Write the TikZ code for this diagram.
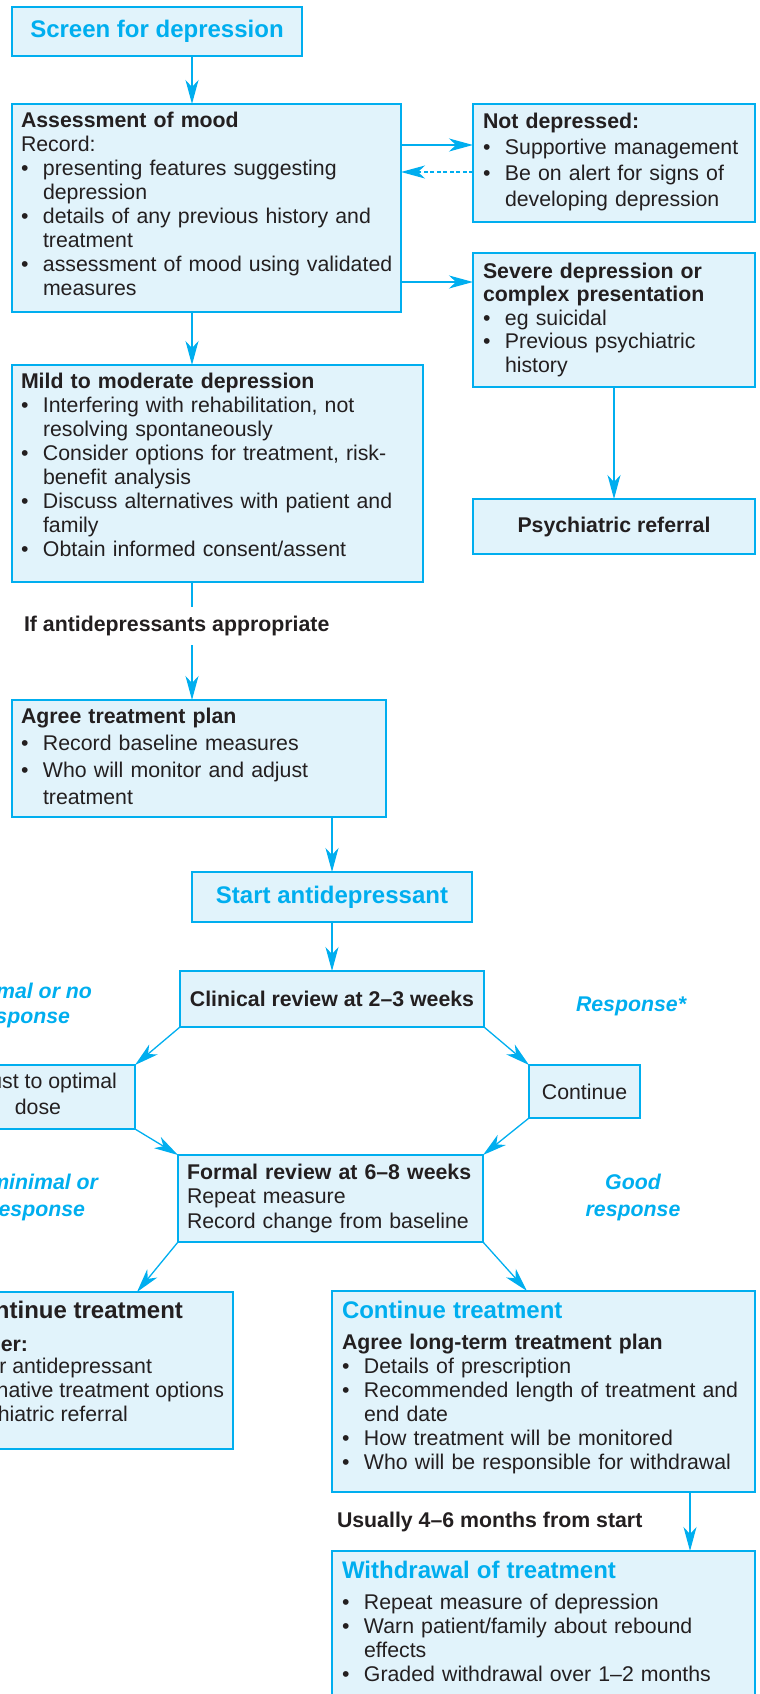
\documentclass[tikz,border=0pt]{standalone}
\usepackage{fontspec}
\setmainfont{Liberation Sans}
\usetikzlibrary{arrows.meta,calc}
\definecolor{cy}{HTML}{00AEEF}
\definecolor{bx}{HTML}{E1F3FB}
\definecolor{dk}{HTML}{231F20}
\newcommand{\bli}{\makebox[22pt][l]{\textbullet}}
\newcommand{\ind}{\hspace*{22pt}}
\newcommand{\bfs}{\fontsize{21.3}{24}\selectfont}
\newcommand{\hds}{\fontsize{24}{28}\selectfont\bfseries\color{cy}}
\begin{document}
\begin{tikzpicture}[x=1pt,y=-1pt,
 box/.style={draw=cy, fill=bx, line width=1.3pt, inner sep=0pt, outer sep=0pt},
 txt/.style={inner sep=0pt, outer sep=0pt, text=dk, font=\bfs, align=left, anchor=base west},
 frag/.style={inner sep=0pt, outer sep=0pt, text=dk, font=\bfs, anchor=base east},
 lab/.style={inner sep=0pt, outer sep=0pt, text=cy, font=\bfs\bfseries\itshape},
 arr/.style={draw=cy, line width=1.3pt, -{Stealth[length=24pt,width=13pt,inset=7pt]}},
 ln/.style={draw=cy, line width=1.3pt}]
\useasboundingbox (0,0) rectangle (760,1694);
\clip (0,0) rectangle (760,1694);

% boxes
\node[box, minimum width=290pt, minimum height=49pt, font=\hds] (scr) at (157,31.5) {Screen for depression};
\node[box, anchor=north west, minimum width=389pt, minimum height=208pt] (asm) at (12,104) {};
\node[box, anchor=north west, minimum width=282pt, minimum height=118pt] (nd) at (473,104) {};
\node[box, anchor=north west, minimum width=282pt, minimum height=134pt] (sev) at (473,253) {};
\node[box, minimum width=282pt, minimum height=55pt, text=dk, font=\bfs\bfseries] (psy) at (614,526.5) {Psychiatric referral};
\node[box, anchor=north west, minimum width=411pt, minimum height=217pt] (mild) at (12,365) {};
\node[box, anchor=north west, minimum width=374pt, minimum height=117pt] (agr) at (12,700) {};
\node[box, minimum width=280pt, minimum height=50pt, font=\hds] (st) at (332,897) {Start antidepressant};
\node[box, minimum width=304pt, minimum height=56pt, text=dk, font=\bfs\bfseries] (clin) at (332,999) {Clinical review at 2--3 weeks};
\node[box, anchor=north east, minimum width=200pt, minimum height=64pt] (adj) at (135,1065) {};
\node[box, minimum width=111pt, minimum height=53pt, text=dk, font=\bfs] (cont) at (584.5,1091.5) {Continue};
\node[box, anchor=north west, minimum width=305pt, minimum height=87pt] (frm) at (178,1155) {};
\node[box, anchor=north east, minimum width=300pt, minimum height=157pt] (cl) at (233,1292) {};
\node[box, anchor=north west, minimum width=423pt, minimum height=201pt] (cr) at (332,1291) {};
\node[box, anchor=north west, minimum width=423pt, minimum height=170pt] (wd) at (332,1551) {};

% texts in boxes
\node[txt, text width=378pt] (asmt) at (21,127) {\hyphenpenalty=10000 \textbf{Assessment of mood}\\Record:\\\bli presenting features suggesting\\\ind depression\\\bli details of any previous history and\\\ind treatment\\\bli assessment of mood using validated\\\ind measures};
\node[txt, text width=268pt, font=\fontsize{21.3}{26.3}\selectfont] (ndt) at (483,128) {\textbf{Not depressed:}\\\bli Supportive management\\\bli Be on alert for signs of\\\ind developing depression};
\node[txt, text width=268pt, font=\fontsize{21.3}{23.5}\selectfont] (sevt) at (483,278) {\textbf{Severe depression or}\\\textbf{complex presentation}\\\bli eg suicidal\\\bli Previous psychiatric\\\ind history};
\node[txt, text width=398pt] (mildt) at (21,388) {\hyphenpenalty=10000 \textbf{Mild to moderate depression}\\\bli Interfering with rehabilitation, not\\\ind resolving spontaneously\\\bli Consider options for treatment, risk-\\\ind benefit analysis\\\bli Discuss alternatives with patient and\\\ind family\\\bli Obtain informed consent/assent};
\node[txt, text width=360pt, font=\fontsize{21.3}{27}\selectfont] (agrt) at (21,723) {\textbf{Agree treatment plan}\\\bli Record baseline measures\\\bli Who will monitor and adjust\\\ind treatment};
\node[txt, text width=294pt, font=\fontsize{21.3}{24.5}\selectfont] (frmt) at (187,1179) {\textbf{Formal review at 6--8 weeks}\\Repeat measure\\Record change from baseline};
\node[txt, text width=410pt] (crt) at (342,1318) {\hyphenpenalty=10000 {\hds Continue treatment}\\[7pt]\textbf{Agree long-term treatment plan}\\\bli Details of prescription\\\bli Recommended length of treatment and\\\ind end date\\\bli How treatment will be monitored\\\bli Who will be responsible for withdrawal};
\node[txt, text width=410pt] (wdt) at (342,1578) {{\hds Withdrawal of treatment}\\[7pt]\bli Repeat measure of depression\\\bli Warn patient/family about rebound\\\ind effects\\\bli Graded withdrawal over 1--2 months};

% cut-off fragments at left edge
\node[frag] (adj1) at (117,1088) {ust to optimal};
\node[frag, anchor=base] (adj2) at (38,1114) {dose};
\node[frag, font=\hds] (cl1) at (183,1318) {ntinue treatment};
\node[frag, font=\bfs\bfseries] (cl2) at (28,1351) {der:};
\node[frag] (cl3) at (152,1373) {r antidepressant};
\node[frag] (cl4) at (224,1397) {native treatment options};
\node[frag] (cl5) at (128,1421) {hiatric referral};

% labels
\node[lab, anchor=base east] (l1) at (92,998) {mal or no};
\node[lab, anchor=base east] (l2) at (70,1023) {sponse};
\node[lab, anchor=base east] (l3) at (98,1189) {minimal or};
\node[lab, anchor=base east] (l4) at (85,1216) {esponse};
\node[lab, anchor=base west] (r1) at (576,1011) {Response*};
\node[lab, anchor=base] (r2) at (633,1189) {Good};
\node[lab, anchor=base] (r3) at (633,1216) {response};
\node[txt, font=\bfs\bfseries] (ifa) at (24,631) {If antidepressants appropriate};
\node[txt, font=\bfs\bfseries] (usu) at (337,1527) {Usually 4--6 months from start};

% helper coordinates
\coordinate (xa) at (192,0);
\coordinate (xc) at (690,0);
\coordinate (ya) at (0,145);
\coordinate (yd) at (0,172);
\coordinate (ys) at (0,282);
\coordinate (ia) at (192,607);
\coordinate (ib) at (192,645);

% connectors
\draw[arr] (scr.south -| xa) -- (asm.north -| xa);
\draw[arr] (asm.east |- ya) -- (nd.west |- ya);
\draw[arr, dash pattern=on 4pt off 2.5pt] (nd.west |- yd) -- (asm.east |- yd);
\draw[arr] (asm.east |- ys) -- (sev.west |- ys);
\draw[arr] (asm.south -| xa) -- (mild.north -| xa);
\draw[arr] (sev.south) -- (psy.north);
\draw[ln] (mild.south -| xa) -- (ia);
\draw[arr] (ib) -- (agr.north -| xa);
\draw[arr] (agr.south -| st.north) -- (st.north);
\draw[arr] (st.south) -- (clin.north);
\draw[arr] (clin.south west) -- (adj.north east);
\draw[arr] (clin.south east) -- (cont.north west);
\draw[arr] (adj.south east) -- (frm.north west);
\draw[arr] (cont.south west) -- (frm.north east);
\draw[arr] (frm.south west) -- ([xshift=-96pt]cl.north east);
\draw[arr] (frm.south east) -- ([xshift=195pt]cr.north west);
\draw[arr] (cr.south -| xc) -- (wd.north -| xc);
\end{tikzpicture}
\end{document}
